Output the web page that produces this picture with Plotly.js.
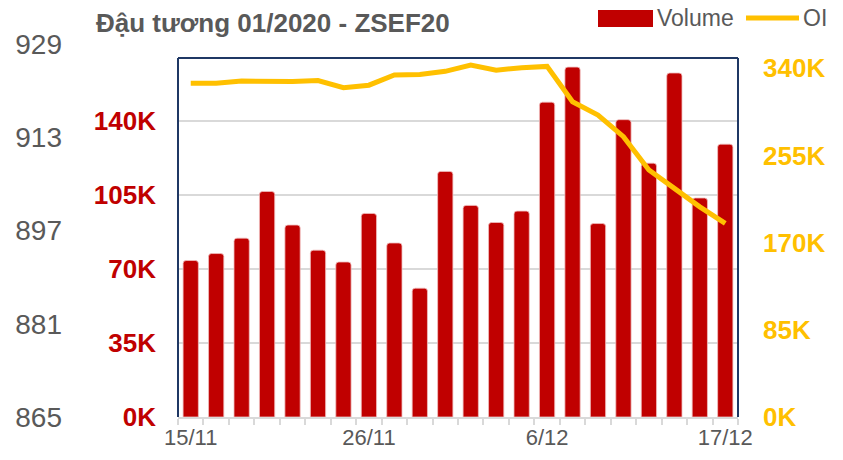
<!DOCTYPE html>
<html>
<head>
<meta charset="utf-8">
<script src="https://cdn.plot.ly/plotly-3.0.1.min.js"></script>
<style>html,body{margin:0;padding:0;background:#fff;}#chart{width:843px;height:460px;}</style>
</head>
<body>
<div id="chart"></div>
<script>
// ---- data ----
const dates = ['15/11','18/11','19/11','20/11','21/11','22/11','25/11','26/11','27/11','29/11',
               '2/12','3/12','4/12','5/12','6/12','9/12','10/12','11/12','12/12','13/12','16/12','17/12'];
const volume = [74100, 77400, 84700, 106800, 90900, 79000, 73400, 96400, 82400, 61000,
                116300, 100200, 92100, 97500, 149100, 165700, 91600, 140800, 120200, 162900, 103700, 129200];
const openInterest = [325500, 325500, 327500, 327000, 327000, 328000, 321000, 323500, 333500, 334000,
                      337000, 343200, 338000, 340600, 341800, 307400, 294400, 273300, 240800, 222900, 204900, 188700];
const volTickVals = [0, 35000, 70000, 105000, 140000];
const volTickText = ['0K', '35K', '70K', '105K', '140K'];
const oiTickVals = [0, 85000, 170000, 255000, 340000];
const oiTickText = ['0K', '85K', '170K', '255K', '340K'];
const priceTickVals = [865, 881, 897, 913, 929];
const xLabelEvery = 7;
const titleText = 'Đậu tương 01/2020 - ZSEF20';
const seriesNames = ['Volume', 'OI'];

// ---- layout constants ----
const W = 843, H = 460;
const mL = 62, mR = 105, mT = 40, mB = 43;
const plotLeftPx = 178, plotTopPx = 58;
const plotW = W - mL - mR, plotH = H - mT - mB;
const xStart = (plotLeftPx - mL) / plotW;
const yTop = (H - mB - plotTopPx) / plotH;
const pricePxPerUnit = 93.25 / 16;
const priceMax = priceTickVals[0] + plotH / pricePxPerUnit;
const px = (p) => (p - mL) / plotW;          // pixel -> paper x
const py = (p) => (H - mB - p) / plotH;      // pixel -> paper y

const FONT = 'Liberation Sans, Arial, sans-serif';
const RED = '#C00000', YEL = '#FFC000', GRAY = '#595959', NAVY = '#1F3864';

const traces = [
  {
    type: 'bar', name: seriesNames[0], x: dates, y: volume, xaxis: 'x', yaxis: 'y',
    marker: { color: RED, cornerradius: 3, line: { color: 'rgba(240,190,190,0.8)', width: 1 } },
    hoverinfo: 'x+y'
  },
  {
    type: 'scatter', mode: 'lines', name: seriesNames[1], x: dates, y: openInterest, xaxis: 'x', yaxis: 'y2',
    line: { color: YEL, width: 5 }
  },
  {
    type: 'scatter', mode: 'markers', x: [dates[0]], y: [null], xaxis: 'x', yaxis: 'y3',
    showlegend: false, hoverinfo: 'skip', marker: { opacity: 0 }
  }
];

const layout = {
  width: W, height: H,
  margin: { l: mL, r: mR, t: mT, b: mB, pad: 0 },
  paper_bgcolor: '#fff', plot_bgcolor: 'rgba(0,0,0,0)',
  font: { family: FONT, color: GRAY },
  bargap: 0.4,
  showlegend: false,
  title: {
    text: '<b>' + titleText + '</b>',
    font: { family: FONT, size: 26, color: GRAY },
    xref: 'container', yref: 'container', x: 96 / W, xanchor: 'left', y: 1 - 23 / H, yanchor: 'middle'
  },
  xaxis: {
    type: 'category', domain: [xStart, 1], anchor: 'y',
    tickmode: 'array', tickvals: dates,
    ticktext: dates.map((d, i) => (i % xLabelEvery === 0 ? d : '')),
    tickangle: 0,
    tickson: 'boundaries', ticks: 'outside', ticklen: 6, tickwidth: 2, tickcolor: '#D9D9D9',
    showline: true, linecolor: '#D9D9D9', linewidth: 2,
    showgrid: false, zeroline: false,
    tickfont: { family: FONT, size: 22, color: GRAY },
    range: [-0.5, dates.length - 0.5]
  },
  yaxis: {
    domain: [0, yTop], anchor: 'x', range: [0, 170000],
    tickmode: 'array', tickvals: volTickVals, ticktext: volTickText,
    ticks: '', ticklabelstandoff: 21,
    tickfont: { family: FONT, size: 26, color: RED, weight: 'bold' },
    showgrid: true, gridcolor: '#D9D9D9', gridwidth: 2,
    zeroline: false, showline: false
  },
  yaxis2: {
    overlaying: 'y', side: 'right', anchor: 'x', range: [0, 350000],
    tickmode: 'array', tickvals: oiTickVals, ticktext: oiTickText,
    ticks: '', ticklabelstandoff: 24,
    tickfont: { family: FONT, size: 26, color: YEL, weight: 'bold' },
    showgrid: false, zeroline: false, showline: false
  },
  yaxis3: {
    domain: [0, 1], anchor: 'free', position: 0, side: 'left',
    range: [priceTickVals[0], priceMax],
    tickmode: 'array', tickvals: priceTickVals,
    ticks: '', tickfont: { family: FONT, size: 28, color: GRAY },
    showgrid: false, zeroline: false, showline: false
  },
  shapes: [
    { type: 'line', xref: 'x domain', yref: 'y domain', x0: 0, x1: 0, y0: 0, y1: 1, line: { color: NAVY, width: 2 }, layer: 'above' },
    { type: 'line', xref: 'x domain', yref: 'y domain', x0: 1, x1: 1, y0: 0, y1: 1, line: { color: NAVY, width: 2 }, layer: 'above' },
    { type: 'line', xref: 'x domain', yref: 'y domain', x0: 0, x1: 1, y0: 1, y1: 1, line: { color: NAVY, width: 2 }, layer: 'above' },
    // legend swatches
    { type: 'rect', xref: 'paper', yref: 'paper', x0: px(598), x1: px(653), y0: py(27), y1: py(10),
      fillcolor: RED, line: { width: 0 } },
    { type: 'line', xref: 'paper', yref: 'paper', x0: px(746), x1: px(799), y0: py(18), y1: py(18),
      line: { color: YEL, width: 5 } }
  ],
  annotations: [
    { xref: 'paper', yref: 'paper', x: px(655), y: py(18), xanchor: 'left', yanchor: 'middle',
      text: seriesNames[0], showarrow: false, font: { family: FONT, size: 23, color: GRAY } },
    { xref: 'paper', yref: 'paper', x: px(801), y: py(18), xanchor: 'left', yanchor: 'middle',
      text: seriesNames[1], showarrow: false, font: { family: FONT, size: 23, color: GRAY } }
  ]
};

Plotly.newPlot('chart', traces, layout, { displayModeBar: false, staticPlot: true });
</script>
</body>
</html>
